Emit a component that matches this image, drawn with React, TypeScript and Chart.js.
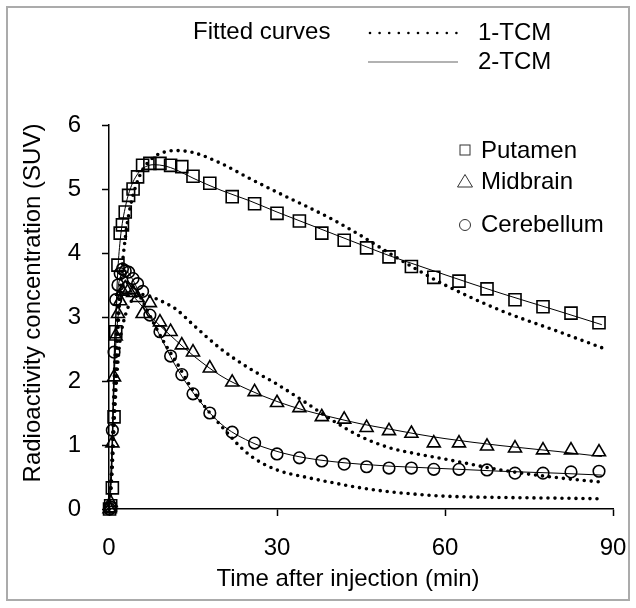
import React, { useEffect, useRef } from "react";
import { Chart, registerables } from "chart.js";

Chart.register(...registerables);

const FONT = "'Liberation Sans', Arial, sans-serif";

// Frame times (min) of the measured points
const TIMES = [0.1, 0.3, 0.6, 0.9, 1.2, 1.6, 2.0, 2.4, 2.9, 3.5, 4.3, 5.1, 6.0, 7.3, 9.1, 11, 13, 15, 18, 22, 26, 30, 34, 38, 42, 46, 50, 54, 58, 62.5, 67.5, 72.5, 77.5, 82.5, 87.5];

const PUTAMEN = [0.0, 0.05, 0.33, 1.44, 2.77, 3.81, 4.31, 4.44, 4.64, 4.9, 5.0, 5.19, 5.37, 5.4, 5.4, 5.37, 5.35, 5.2, 5.09, 4.88, 4.77, 4.62, 4.5, 4.31, 4.2, 4.08, 3.94, 3.79, 3.62, 3.56, 3.44, 3.27, 3.16, 3.06, 2.91];
const MIDBRAIN = [0.0, 0.1, 1.03, 2.06, 2.7, 3.05, 3.25, 3.4, 3.45, 3.42, 3.38, 3.3, 3.05, 3.22, 2.92, 2.77, 2.56, 2.45, 2.2, 1.98, 1.83, 1.66, 1.58, 1.44, 1.4, 1.27, 1.22, 1.18, 1.03, 1.03, 0.98, 0.95, 0.92, 0.92, 0.89];
const CEREBELLUM = [0.0, 0.03, 1.23, 2.45, 3.27, 3.5, 3.68, 3.75, 3.72, 3.7, 3.6, 3.52, 3.4, 3.03, 2.77, 2.39, 2.1, 1.8, 1.5, 1.2, 1.03, 0.86, 0.8, 0.75, 0.7, 0.66, 0.64, 0.64, 0.62, 0.62, 0.61, 0.56, 0.56, 0.58, 0.59];

// Fitted curves sampled at these times (min)
const CURVE_TIMES = [0, 0.5, 1, 1.5, 2, 3, 4, 5, 6, 8, 10, 12, 15, 20, 25, 30, 35, 40, 45, 50, 55, 60, 70, 80, 88];
const PUT_2TCM = [0, 0.6, 2.4, 3.6, 4.2, 4.75, 5.05, 5.22, 5.32, 5.38, 5.36, 5.3, 5.17, 4.98, 4.82, 4.64, 4.47, 4.3, 4.13, 3.96, 3.81, 3.66, 3.37, 3.1, 2.88];
const PUT_1TCM = [0, 0.5, 1.6, 2.6, 3.4, 4.3, 4.8, 5.1, 5.3, 5.5, 5.58, 5.6, 5.57, 5.4, 5.17, 4.95, 4.74, 4.52, 4.27, 4.0, 3.74, 3.5, 3.1, 2.78, 2.52];
const MID_2TCM = [0, 0.8, 2.2, 2.9, 3.2, 3.38, 3.35, 3.26, 3.16, 2.96, 2.79, 2.63, 2.4, 2.08, 1.86, 1.68, 1.54, 1.43, 1.33, 1.25, 1.17, 1.1, 0.99, 0.9, 0.82];
const MID_1TCM = [0, 0.6, 1.5, 2.2, 2.65, 3.05, 3.25, 3.33, 3.35, 3.3, 3.22, 3.12, 2.88, 2.5, 2.2, 1.95, 1.67, 1.38, 1.13, 0.96, 0.86, 0.78, 0.61, 0.49, 0.42];
const CER_2TCM = [0, 0.9, 2.6, 3.35, 3.62, 3.72, 3.62, 3.45, 3.25, 2.9, 2.55, 2.22, 1.82, 1.33, 1.06, 0.9, 0.8, 0.74, 0.7, 0.67, 0.65, 0.63, 0.59, 0.56, 0.53];
const CER_1TCM = [0, 0.7, 2.2, 3.0, 3.35, 3.55, 3.5, 3.4, 3.25, 2.9, 2.58, 2.3, 1.85, 1.3, 0.85, 0.61, 0.5, 0.41, 0.33, 0.27, 0.23, 0.2, 0.18, 0.17, 0.16];

const X_TICKS = [0, 30, 60, 90];
const Y_TICKS = [0, 1, 2, 3, 4, 5, 6];
const X_TITLE = "Time after injection (min)";
const Y_TITLE = "Radioactivity concentration (SUV)";
const FIT_TITLE = "Fitted curves";
const FIT_LABELS = ["1-TCM", "2-TCM"];
const REGION_LABELS = ["Putamen", "Midbrain", "Cerebellum"];

const pts = (xs: number[], ys: number[]) => xs.map((x, i) => ({ x, y: ys[i] }));

const W = 636;
const H = 608;

export default function App() {
  const ref = useRef<HTMLCanvasElement>(null);

  useEffect(() => {
    const canvas = ref.current;
    if (!canvas) return;

    const framePlugin = {
      id: "frame",
      beforeDraw(chart: any) {
        const c = chart.ctx as CanvasRenderingContext2D;
        c.save();
        c.fillStyle = "#fff";
        c.fillRect(0, 0, W, H);
        c.strokeStyle = "#ababab";
        c.lineWidth = 2;
        c.strokeRect(7, 7, 622, 593);
        c.restore();
      },
    };

    const textPlugin = {
      id: "customText",
      afterDraw(chart: any) {
        const c = chart.ctx as CanvasRenderingContext2D;
        c.save();
        c.fillStyle = "#000";
        c.font = `24px ${FONT}`;
        // y title
        c.save();
        c.translate(40, 303);
        c.rotate(-Math.PI / 2);
        c.textAlign = "center";
        c.textBaseline = "alphabetic";
        c.fillText(Y_TITLE, 0, 0);
        c.restore();
        // x title
        c.textAlign = "center";
        c.textBaseline = "alphabetic";
        c.fillText(X_TITLE, 348, 586);

        // fitted curve legend
        c.textAlign = "left";
        c.fillText(FIT_TITLE, 193, 39);
        c.fillText(FIT_LABELS[0], 478, 40);
        c.fillText(FIT_LABELS[1], 478, 69);
        c.fillStyle = "#000";
        for (let x = 370; x <= 458; x += 9.6) {
          c.beginPath();
          c.arc(x, 33, 1.3, 0, Math.PI * 2);
          c.fill();
        }
        c.strokeStyle = "#999";
        c.lineWidth = 1.5;
        c.beginPath();
        c.moveTo(368, 62);
        c.lineTo(458, 62);
        c.stroke();

        // region legend
        const rows = [150, 181, 224];
        c.fillStyle = "#000";
        REGION_LABELS.forEach((lab, i) => {
          c.fillText(lab, 481, rows[i] + 8);
        });
        c.strokeStyle = "#333";
        c.lineWidth = 1;
        const sx = 465;
        c.strokeRect(sx - 5, rows[0] - 5, 10, 10);
        c.beginPath();
        c.moveTo(sx, rows[1] - 6.5);
        c.lineTo(sx + 7.5, rows[1] + 6);
        c.lineTo(sx - 7.5, rows[1] + 6);
        c.closePath();
        c.stroke();
        c.beginPath();
        c.arc(sx, rows[2] + 1, 5.5, 0, Math.PI * 2);
        c.stroke();
        c.restore();
      },
    };

    const curve = (data: number[], dotted: boolean) => ({
      type: "line" as const,
      data: pts(CURVE_TIMES, data),
      borderColor: "#000",
      borderWidth: dotted ? 3.6 : 1,
      borderDash: dotted ? [0, 7] : [],
      borderCapStyle: dotted ? ("round" as const) : ("butt" as const),
      pointRadius: 0,
      cubicInterpolationMode: "monotone" as const,
      fill: false,
      showLine: true,
      clip: false as any,
      order: 2,
    });

    const marks = (data: number[], style: string, r: number) => ({
      type: "scatter" as const,
      data: pts(TIMES, data),
      pointStyle: style,
      pointRadius: r,
      pointBorderWidth: 1.6,
      pointBorderColor: "#000",
      pointBackgroundColor: "rgba(0,0,0,0)",
      showLine: false,
      clip: false as any,
      order: 1,
    });

    const chart = new Chart(canvas, {
      type: "scatter",
      data: {
        datasets: [
          curve(PUT_1TCM, true),
          curve(MID_1TCM, true),
          curve(CER_1TCM, true),
          curve(PUT_2TCM, false),
          curve(MID_2TCM, false),
          curve(CER_2TCM, false),
          marks(PUTAMEN, "rect", 8.5),
          marks(MIDBRAIN, "triangle", 7.5),
          marks(CEREBELLUM, "circle", 5.8),
        ] as any,
      },
      options: {
        animation: false,
        responsive: false,
        devicePixelRatio: 1,
        layout: { padding: { top: 125, right: 23, left: 0, bottom: 0 } },
        plugins: { legend: { display: false }, tooltip: { enabled: false } },
        scales: {
          x: {
            type: "linear",
            min: 0,
            max: 90,
            afterFit: (s: any) => { s.height = 99; s.paddingLeft = 0; s.paddingRight = 0; },
            afterBuildTicks: (s: any) => { s.ticks = X_TICKS.map((v) => ({ value: v })); },
            ticks: { color: "#000", font: { family: FONT, size: 24 }, padding: 18, maxRotation: 0 },
            grid: { display: true, drawOnChartArea: false, drawTicks: true, tickLength: 7, tickColor: "#000", tickWidth: 1.5 },
            border: { display: true, color: "#000", width: 1.5 },
          },
          y: {
            type: "linear",
            min: 0,
            max: 6,
            afterFit: (s: any) => { s.width = 109; s.paddingTop = 0; s.paddingBottom = 0; },
            afterBuildTicks: (s: any) => { s.ticks = Y_TICKS.map((v) => ({ value: v })); },
            ticks: { color: "#000", font: { family: FONT, size: 24 }, padding: 21 },
            grid: { display: true, drawOnChartArea: false, drawTicks: true, tickLength: 7, tickColor: "#000", tickWidth: 1.5 },
            border: { display: true, color: "#000", width: 1.5 },
          },
        },
      },
      plugins: [framePlugin, textPlugin],
    });

    return () => chart.destroy();
  }, []);

  return (
    <div style={{ position: "absolute", left: 0, top: 0, width: W, height: H }}>
      <canvas ref={ref} width={W} height={H} style={{ display: "block", width: W, height: H }} />
    </div>
  );
}
